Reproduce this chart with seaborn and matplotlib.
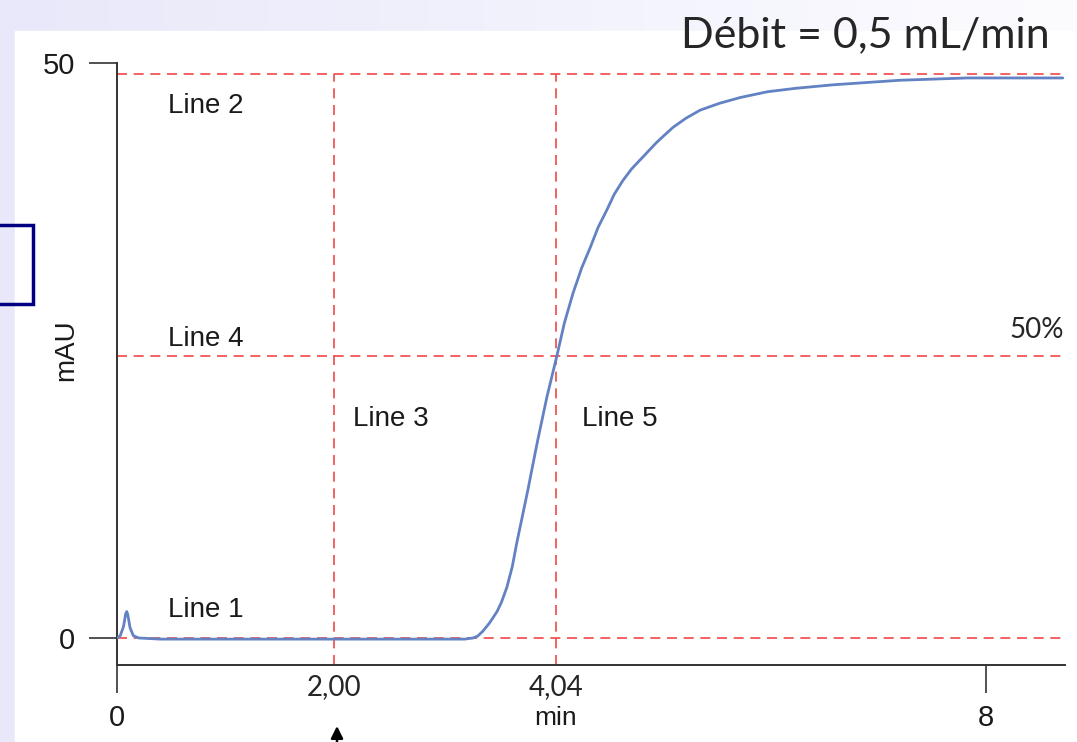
import numpy as np
import matplotlib
matplotlib.use('Agg')
import matplotlib.pyplot as plt
from matplotlib.patches import Rectangle
import seaborn as sns

# chromatogram trace (min, mAU)
TIME = [0.00, 0.03, 0.06, 0.08, 0.09, 0.10, 0.12, 0.15, 0.20, 0.40, 1.00, 2.00,
        3.00, 3.20, 3.28, 3.32, 3.37, 3.43, 3.50, 3.54, 3.59, 3.64, 3.68, 3.78,
        3.87, 3.96, 4.05, 4.12, 4.20, 4.28, 4.36, 4.43, 4.51, 4.58, 4.66, 4.74,
        4.82, 4.90, 4.97, 5.05, 5.12, 5.24, 5.37, 5.55, 5.74, 5.99, 6.25, 6.59,
        6.90, 7.21, 7.83, 8.71]
ABS = [0.0, 0.2, 1.0, 2.1, 2.3, 2.0, 0.9, 0.2, 0.0, -0.1, -0.1, -0.1,
       -0.1, -0.1, 0.0, 0.15, 0.6, 1.3, 2.3, 3.1, 4.4, 6.2, 8.2, 12.7,
       17.0, 21.0, 24.5, 27.4, 30.0, 32.2, 34.0, 35.7, 37.2, 38.6, 39.8, 40.8,
       41.6, 42.4, 43.1, 43.8, 44.4, 45.2, 45.9, 46.5, 47.0, 47.5, 47.8, 48.1,
       48.3, 48.5, 48.7, 48.7]

# reference lines
HLINES = [0, 24.5, 49]          # Line 1, Line 4, Line 2
VLINES = [2.00, 4.04]           # Line 3, Line 5
VLINE_LABELS = ['2,00', '4,04']
XTICKS = [0, 8]
YTICKS = [0, 50]

W, H = 1077, 742
sns.set_style('white')
plt.rcParams['font.family'] = ['Liberation Sans Narrow', 'Liberation Sans', 'DejaVu Sans']
NOTE_FONT = ['Lato', 'DejaVu Sans']
INK = '#1a1a1a'

fig = plt.figure(figsize=(W / 100, H / 100), dpi=100)

# slide background: lavender gradient, white panel
bg = fig.add_axes([0, 0, 1, 1], zorder=-10)
grad = np.linspace(0, 1, 256)[None, :, None]
c0 = np.array([232, 232, 250]) / 255
c1 = np.array([252, 252, 255]) / 255
bg.imshow(c0 + (c1 - c0) * grad, aspect='auto', extent=[0, 1, 0, 1])
bg.add_patch(Rectangle((15 / W, 0), 1, (H - 31) / H, color='white', zorder=2))
bg.add_patch(Rectangle((-5 / W, (H - 304) / H), 38 / W, 79 / H, fill=False,
                       edgecolor='#000080', lw=2.5, zorder=3))
bg.set_xlim(0, 1)
bg.set_ylim(0, 1)
bg.axis('off')

ax = fig.add_axes([117 / W, (H - 665) / H, 948 / W, 602 / H])
ax.set_facecolor('none')

red = '#F04848'
for y in HLINES:
    ax.axhline(y, color=red, lw=1.2, dashes=(6, 4), zorder=1)
for x in VLINES:
    ax.plot([x, x], [-2.35, HLINES[-1]], color=red, lw=1.2, dashes=(6, 4), zorder=1)

sns.lineplot(x=TIME, y=ABS, ax=ax, color='#6282C4', lw=2.0, zorder=3)

ax.set_xlim(0, 8.73)
ax.set_ylim(-2.35, 50)
sns.despine(ax=ax)
for s in ['left', 'bottom']:
    ax.spines[s].set_color('#333333')
    ax.spines[s].set_linewidth(1.4)

ax.set_xticks(XTICKS)
ax.set_xticklabels([str(v) for v in XTICKS])
ax.set_yticks(YTICKS)
ax.set_yticklabels([str(v) for v in YTICKS])
ax.tick_params(axis='both', bottom=True, left=True, length=20, width=1.1,
               color='#222222', labelsize=21, labelcolor=INK, direction='out')
ax.tick_params(axis='x', pad=8)
ax.tick_params(axis='y', pad=10)
fig.text(66 / W, (H - 350) / H, 'mAU', fontsize=20, color=INK, rotation=90,
         ha='center', va='center')

lab = dict(fontsize=20, color=INK, va='center', ha='left')
ax.text(0.47, 49 - 2.7, 'Line 2', **lab)
ax.text(0.47, 26.0, 'Line 4', **lab)
ax.text(0.47, 2.4, 'Line 1', **lab)
ax.text(2.17, 19.0, 'Line 3', **lab)
ax.text(4.28, 19.0, 'Line 5', **lab)

for x, t in zip(VLINES, VLINE_LABELS):
    ax.text(x, -3.1, t, fontsize=20, family=NOTE_FONT, ha='center', va='top', clip_on=False)
ax.text(VLINES[1], -5.9, 'min', fontsize=19, color=INK, ha='center', va='top', clip_on=False)

fig.text(1064 / W, (H - 338) / H, '50%', fontsize=20, family=NOTE_FONT, ha='right', va='baseline')
fig.text(1050 / W, (H - 47) / H, 'Débit = 0,5 mL/min', fontsize=31, family=NOTE_FONT,
         ha='right', va='baseline')

ax.annotate('', xy=(337 / W, (H - 726) / H), xytext=(337 / W, 0.0),
            xycoords='figure fraction', textcoords='figure fraction',
            arrowprops=dict(arrowstyle='-|>', color='black', lw=1.8, mutation_scale=18,
                            shrinkA=0, shrinkB=0))

fig.savefig('out.png', dpi=100)
